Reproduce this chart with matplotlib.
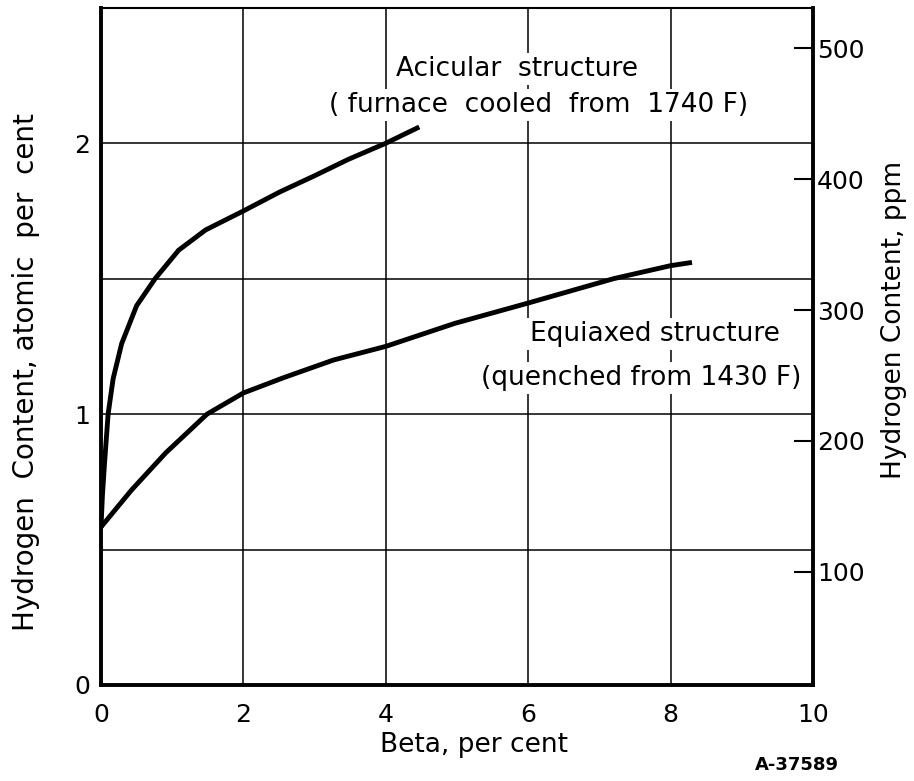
import matplotlib.pyplot as plt

# Curves (Beta per cent vs hydrogen, atomic per cent)
acicular_beta = [0.0, 0.02, 0.05, 0.1, 0.17, 0.29, 0.5, 0.76, 1.09, 1.47, 2.0, 2.51, 3.0, 3.47, 4.0, 4.47]
acicular_h = [0.58, 0.70, 0.82, 1.0, 1.13, 1.26, 1.40, 1.5, 1.605, 1.68, 1.75, 1.82, 1.88, 1.94, 2.0, 2.06]

equiaxed_beta = [0.0, 0.43, 0.91, 1.49, 2.0, 2.56, 3.27, 4.0, 4.97, 6.0, 6.6, 7.2, 8.0, 8.3]
equiaxed_h = [0.583, 0.72, 0.857, 1.0, 1.078, 1.134, 1.20, 1.25, 1.335, 1.41, 1.455, 1.5, 1.548, 1.56]

x_ticks = [0, 2, 4, 6, 8, 10]
y_ticks = [0, 1, 2]
y_grid = [0.5, 1.5]
ppm_ticks = [100, 200, 300, 400, 500]

plt.rcParams['font.family'] = 'DejaVu Sans'

fig = plt.figure(figsize=(9.14, 7.81), dpi=100)
ax = fig.add_axes([0.1105, 0.123, 0.779, 0.867])

ax.plot(acicular_beta, acicular_h, color='black', lw=3.5, solid_capstyle='butt', zorder=3)
ax.plot(equiaxed_beta, equiaxed_h, color='black', lw=3.5, solid_capstyle='butt', zorder=3)

ax.set_xlim(0, 10)
ax.set_ylim(0, 2.5)
ax.set_xticks(x_ticks)
ax.set_xticklabels([str(v) for v in x_ticks])
ax.set_yticks(y_ticks)
ax.set_yticklabels([str(v) for v in y_ticks])
ax.set_yticks(y_grid, minor=True)
ax.tick_params(axis='both', which='both', length=0, labelsize=18)
ax.tick_params(axis='x', pad=13)
ax.tick_params(axis='y', pad=8)
ax.grid(True, which='both', color='black', lw=1.1)
ax.set_axisbelow(True)

for side, w in [('left', 2.8), ('bottom', 2.8), ('right', 2.8), ('top', 1.5)]:
    ax.spines[side].set_linewidth(w)

ax.set_xlabel('Beta, per cent', fontsize=19)
ax.xaxis.set_label_coords(0.524, -0.069)
ax.set_ylabel('Hydrogen  Content, atomic  per  cent', fontsize=20)
ax.yaxis.set_label_coords(-0.085, 0.462)

# right-hand scale in ppm
ax2 = ax.twinx()
ax2.set_ylim(13.5, 531)
ax2.set_yticks(ppm_ticks)
ax2.set_yticklabels([str(v) for v in ppm_ticks])
ax2.tick_params(axis='y', direction='in', length=14, width=1.5, pad=3, labelsize=18)
ax2.set_ylabel('Hydrogen Content, ppm', fontsize=19)
ax2.yaxis.set_label_coords(1.096, 0.539)
for side in ['left', 'bottom', 'right', 'top']:
    ax2.spines[side].set_visible(False)

box = dict(facecolor='white', edgecolor='none', pad=2)
ax.text(5.84, 2.275, 'Acicular  structure', fontsize=19, ha='center', va='center', bbox=box, zorder=4)
ax.text(6.15, 2.14, '( furnace  cooled  from  1740 F)', fontsize=19, ha='center', va='center', bbox=box, zorder=4)
ax.text(7.78, 1.296, 'Equiaxed structure', fontsize=19, ha='center', va='center', bbox=box, zorder=4)
ax.text(7.58, 1.134, '(quenched from 1430 F)', fontsize=19, ha='center', va='center', bbox=box, zorder=4)

fig.text(0.872, 0.02, 'A-37589', fontsize=13, fontweight='bold', ha='center', va='center')

fig.savefig('out.png', dpi=100)
